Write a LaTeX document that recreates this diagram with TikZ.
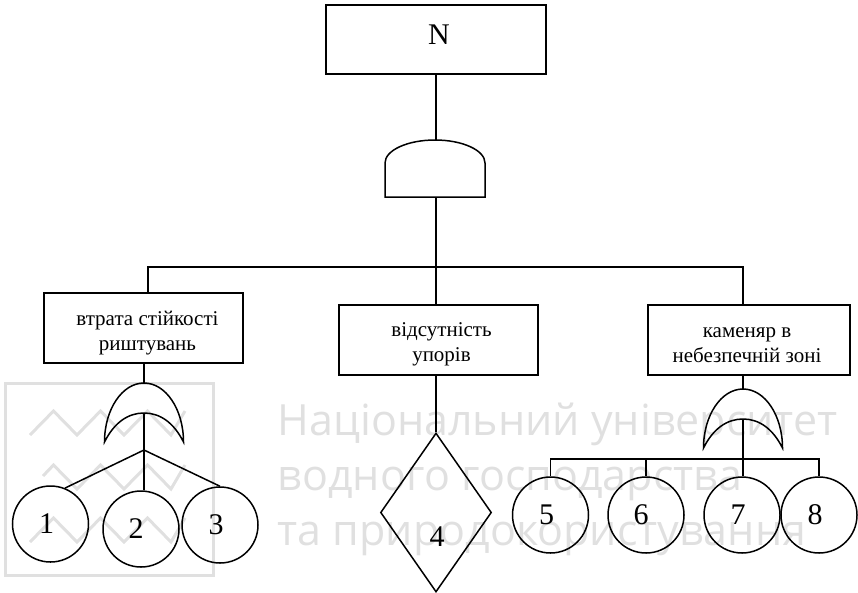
\documentclass[tikz,border=0pt]{standalone}
\usepackage{fontspec}
\setmainfont{Liberation Serif}
\newfontfamily\wmfont{Open Sans}
\usetikzlibrary{shapes.geometric}
\definecolor{wm}{HTML}{E0E0E0}
\tikzset{
  orgate/.pic={
    \draw (-39.5,0) arc[start angle=180,end angle=0,x radius=39.5pt,y radius=59pt]
      .. controls (29.5,-20) and (15.5,-29) .. (0,-29)
      .. controls (-15.5,-29) and (-29.5,-20) .. (-39.5,0) -- cycle;
    \coordinate (-top) at (0,-59);
    \coordinate (-in) at (0,-29);
  }
}
\begin{document}
\begin{tikzpicture}[x=1pt,y=-1pt,line width=1.5pt,
  box/.style={draw,rectangle,inner sep=0pt,minimum height=70pt},
  boxtext/.style={align=center,inner sep=0pt,font=\fontsize{21}{25}\selectfont},
  evt/.style={draw,circle,minimum size=76pt,inner sep=0pt},
  num/.style={font=\fontsize{30}{36}\selectfont,inner sep=0pt},
  wmtext/.style={text=wm,font=\wmfont\fontsize{43}{55}\selectfont,anchor=base west,inner sep=0pt},
  wmline/.style={draw=wm,line width=3pt}]
\useasboundingbox (0,0) rectangle (858,592);
% watermark
\draw[wmline] (5,383) rectangle (213,575);
\draw[wmline] (30,435) -- (53.5,411) -- (77,435) -- (100.5,411) -- (124,435)
    -- (147.5,411) -- (171,435) -- (185,411);
\draw[wmline] (43,476) -- (53.5,465) -- (77,489) -- (100.5,465) -- (124,489)
    -- (147.5,465) -- (171,489) -- (185,465);
\draw[wmline] (30,542) -- (53.5,518) -- (77,542) -- (100.5,518) -- (124,542)
    -- (147.5,518) -- (171,542) -- (185,518);
\node[wmtext] (wm1) at (277,435) {Національний університет};
\node[wmtext] (wm2) at (277,490) {водного господарства};
\node[wmtext] (wm3) at (277,545) {та природокористування};
% top event
\node[draw,rectangle,minimum width=220pt,minimum height=69pt,inner sep=0pt] (top) at (436,39.5) {};
\node[num,anchor=base] (topt) at (439,44) {N};
% AND gate
\draw (385,197) -- (385,163) arc[start angle=180,end angle=0,x radius=50pt,y radius=23pt]
  -- (485,197) -- cycle;
\coordinate (andtop) at (436,140);
\coordinate (andbot) at (436,197);
\draw (top.south -| andtop) -- (andtop);
% intermediate events
\node[box,minimum width=199pt] (b1) at (143.5,328) {};
\node[box,minimum width=199pt] (b2) at (438.5,340) {};
\node[box,minimum width=202pt] (b3) at (749,340) {};
\node[boxtext] (t1) at ([xshift=4pt,yshift=-5pt]b1.center) {втрата стійкості\\риштувань};
\node[boxtext] (t2) at ([xshift=3pt,yshift=-4pt]b2.center) {відсутність\\упорів};
\node[boxtext] (t3) at ([xshift=-2pt,yshift=-5pt]b3.center) {каменяр в\\небезпечній зоні};
\coordinate (busL) at (148,267);
\coordinate (busR) at (743,267);
\draw (andbot) -- (andbot |- b2.north);
\draw (busL |- b1.north) -- (busL) -- (busR) -- (busR |- b3.north);
% left OR gate
\pic (org1) at (144,442) {orgate};
\draw (org1-top |- b1.south) -- (org1-top);
\coordinate (fan1) at (144,450);
\draw (org1-in) -- (fan1);
\node[evt] (c1) at (50.5,524) {};
\node[evt] (c2) at (141,529) {};
\node[evt] (c3) at (220,525) {};
\node[num] at ([xshift=-4pt]c1) {1};
\node[num] at ([xshift=-5pt]c2) {2};
\node[num] at ([xshift=-4pt]c3) {3};
\draw (fan1) -- (c1.68);
\draw (fan1) -- (fan1 |- c2.north);
\draw (fan1) -- (c3.north);
% diamond
\node[draw,diamond,minimum width=111pt,minimum height=159pt,inner sep=0pt] (d4) at (436,512.5) {};
\node[num] at ([yshift=-24pt,xshift=1pt]d4.center) {4};
\draw (d4.north |- b2.south) -- (d4.north);
% right OR gate
\pic (org2) at (743,448) {orgate};
\draw (org2-top |- b3.south) -- (org2-top);
\node[evt] (c5) at (550.5,515) {};
\node[evt] (c6) at (646,515) {};
\node[evt] (c7) at (742,515) {};
\node[evt] (c8) at (819,515) {};
\node[num] at ([xshift=-4pt]c5) {5};
\node[num] at ([xshift=-5pt]c6) {6};
\node[num] at ([xshift=-4pt]c7) {7};
\node[num] at ([xshift=-4pt]c8) {8};
\coordinate (rb) at (743,459);
\draw (org2-in) -- (org2-in |- c7.north);
\draw (c5.north) -- (c5.north |- rb) -- (c8.north |- rb) -- (c8.north);
\draw (c6.north) -- (c6.north |- rb);
\end{tikzpicture}
\end{document}
